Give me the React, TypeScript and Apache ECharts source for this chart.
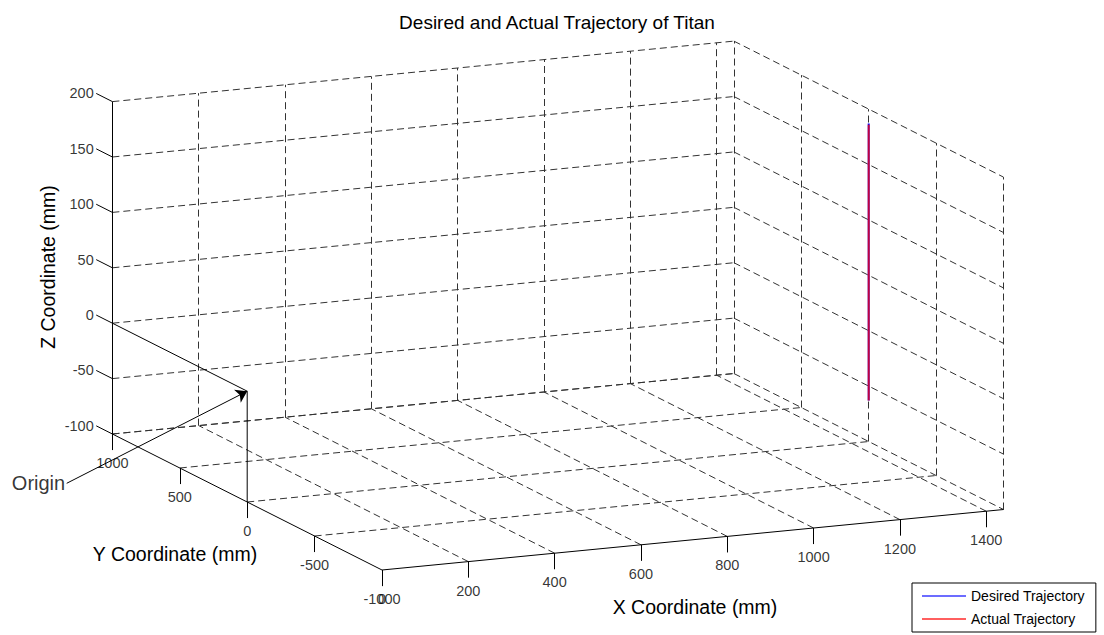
import React, { useEffect, useRef } from "react";
import * as echarts from "echarts";

// ---- data ----
const X_TICKS = [0, 200, 400, 600, 800, 1000, 1200, 1400];
const Y_TICKS = [-1000, -500, 0, 500, 1000];
const Z_TICKS = [-100, -50, 0, 50, 100, 150, 200];
const X_LIMITS = [0, 1440];
const Y_LIMITS = [-1000, 1000];
const Z_LIMITS = [-100, 200];

const DESIRED_X = [1440, 1440];
const DESIRED_Y = [0, 0];
const DESIRED_Z = [-63, 187];

const ACTUAL_X = [1440, 1440];
const ACTUAL_Y = [0, 0];
const ACTUAL_Z = [-63, 186];

const ORIGIN_GUIDE_X = [0, 0, 0];
const ORIGIN_GUIDE_Y = [1000, 0, 0];
const ORIGIN_GUIDE_Z = [0, 0, -100];

const TITLE = "Desired and Actual Trajectory of Titan";
const X_NAME = "X Coordinate (mm)";
const Y_NAME = "Y Coordinate (mm)";
const Z_NAME = "Z Coordinate (mm)";

// ---- view (oblique projection of the 3-D box) ----
const VIEW = { xu: 0.4316, xv: 0.042, yu: -0.1348, yv: 0.068, zv: 1.108 };
const ORIGIN_PX = [247.2, 391.2];
const W = 1104;
const H = 635;
const TICK_Y = 120; // z-axis tick length, in y units
const TICK_Z = 14.5; // x/y-axis tick length, in z units
const FONT = "'Liberation Sans', Arial, Helvetica, sans-serif";

function proj(x: number, y: number, z: number): number[] {
  return [x * VIEW.xu + y * VIEW.yu, x * VIEW.xv + y * VIEW.yv + z * VIEW.zv];
}
function seg(a: number[], b: number[]) {
  return { coords: [proj(a[0], a[1], a[2]), proj(b[0], b[1], b[2])] };
}

function buildOption() {
  const [x0, x1] = X_LIMITS;
  const [y0, y1] = Y_LIMITS;
  const [z0, z1] = Z_LIMITS;

  const dashed: any[] = [];
  // back wall (y = y1)
  Z_TICKS.forEach((z) => dashed.push(seg([x0, y1, z], [x1, y1, z])));
  X_TICKS.filter((x) => x !== x0).forEach((x) => dashed.push(seg([x, y1, z0], [x, y1, z1])));
  // right wall (x = x1)
  Z_TICKS.forEach((z) => dashed.push(seg([x1, y1, z], [x1, y0, z])));
  Y_TICKS.forEach((y) => dashed.push(seg([x1, y, z0], [x1, y, z1])));
  // floor (z = z0)
  X_TICKS.filter((x) => x !== x0).forEach((x) => dashed.push(seg([x, y0, z0], [x, y1, z0])));
  Y_TICKS.filter((y) => y !== y0).forEach((y) => dashed.push(seg([x0, y, z0], [x1, y, z0])));

  const solid: any[] = [
    seg([x0, y1, z0], [x0, y1, z1]),
    seg([x0, y1, z0], [x0, y0, z0]),
    seg([x0, y0, z0], [x1, y0, z0]),
  ];
  Z_TICKS.forEach((z) => solid.push(seg([x0, y1, z], [x0, y1 + TICK_Y, z])));
  Y_TICKS.forEach((y) => solid.push(seg([x0, y, z0], [x0, y, z0 - TICK_Z])));
  X_TICKS.forEach((x) => solid.push(seg([x, y0, z0], [x, y0, z0 - TICK_Z])));

  const zLabels = Z_TICKS.map((z) => ({ value: proj(x0, y1 + TICK_Y, z), name: String(z) }));
  const yLabels = Y_TICKS.map((y) => ({ value: proj(x0, y, z0 - TICK_Z), name: String(y) }));
  const xLabels = X_TICKS.map((x) => ({ value: proj(x, y0, z0 - TICK_Z), name: String(x) }));

  const toPts = (xs: number[], ys: number[], zs: number[]) => xs.map((x, i) => proj(x, ys[i], zs[i]));

  const originTip = proj(0, 0, 0);
  const originTail = [66.7 - ORIGIN_PX[0], ORIGIN_PX[1] - 483.3];

  const labelSeries = (data: any[], position: string, distance: number, fontSize = 14.5) => ({
    type: "scatter",
    silent: true,
    symbol: "circle",
    symbolSize: 1,
    data,
    itemStyle: { color: "rgba(0,0,0,0)" },
    label: {
      show: true,
      position,
      distance,
      formatter: "{b}",
      color: "#000",
      fontSize,
      fontFamily: FONT,
    },
    labelLayout: { hideOverlap: false },
    z: 5,
  });

  return {
    animation: false,
    backgroundColor: "#fff",
    grid: { left: 0, right: 0, top: 0, bottom: 0 },
    xAxis: { type: "value", min: -ORIGIN_PX[0], max: W - ORIGIN_PX[0], show: false },
    yAxis: { type: "value", min: -(H - ORIGIN_PX[1]), max: ORIGIN_PX[1], show: false },
    legend: {
      data: ["Desired Trajectory", "Actual Trajectory"],
      orient: "vertical",
      left: 912,
      top: 583,
      icon: "rect",
      itemWidth: 44,
      itemHeight: 1.5,
      itemGap: 9,
      padding: [6, 11, 6, 10],
      borderColor: "#000",
      borderWidth: 1,
      backgroundColor: "#fff",
      textStyle: { fontSize: 14, color: "#000", fontFamily: FONT, lineHeight: 14 },
    },
    graphic: [
      {
        type: "text",
        x: 557,
        y: 22,
        style: { text: TITLE, fontSize: 19, fontFamily: FONT, fill: "#000", align: "center", verticalAlign: "middle" },
      },
      {
        type: "text",
        x: 695,
        y: 607,
        style: { text: X_NAME, fontSize: 19.5, fontFamily: FONT, fill: "#000", align: "center", verticalAlign: "middle" },
      },
      {
        type: "text",
        x: 175,
        y: 554,
        style: { text: Y_NAME, fontSize: 19.5, fontFamily: FONT, fill: "#000", align: "center", verticalAlign: "middle" },
      },
      {
        type: "text",
        x: 48,
        y: 267,
        rotation: Math.PI / 2,
        style: { text: Z_NAME, fontSize: 19.5, fontFamily: FONT, fill: "#000", align: "center", verticalAlign: "middle" },
      },
    ],
    series: [
      {
        type: "lines",
        coordinateSystem: "cartesian2d",
        silent: true,
        data: dashed,
        symbol: "none",
        lineStyle: { color: "#333", width: 1, type: [7, 4], opacity: 1, curveness: 0 },
        z: 1,
      },
      {
        type: "lines",
        coordinateSystem: "cartesian2d",
        silent: true,
        data: solid,
        symbol: "none",
        lineStyle: { color: "#000", width: 1, type: "solid", opacity: 1, curveness: 0 },
        z: 2,
      },
      {
        name: "Origin guide",
        type: "line",
        silent: true,
        data: toPts(ORIGIN_GUIDE_X, ORIGIN_GUIDE_Y, ORIGIN_GUIDE_Z),
        showSymbol: false,
        symbol: "none",
        lineStyle: { color: "#000", width: 1 },
        z: 3,
      },
      {
        type: "lines",
        coordinateSystem: "cartesian2d",
        silent: true,
        data: [{ coords: [originTail, originTip] }],
        symbol: ["none", "arrow"],
        symbolSize: 11,
        lineStyle: { color: "#000", width: 1, opacity: 1, curveness: 0 },
        z: 3,
      },
      labelSeries([{ value: originTail, name: "Origin" }], "left", 1, 20),
      labelSeries(zLabels, "left", 2),
      labelSeries(yLabels, "bottom", 5),
      labelSeries(xLabels, "bottom", 5),
      {
        name: "Desired Trajectory",
        type: "line",
        data: toPts(DESIRED_X, DESIRED_Y, DESIRED_Z),
        showSymbol: false,
        symbol: "none",
        lineStyle: { color: "#0000ff", width: 2 },
        itemStyle: { color: "#3b3bff" },
        z: 6,
      },
      {
        name: "Actual Trajectory",
        type: "line",
        data: toPts(ACTUAL_X, ACTUAL_Y, ACTUAL_Z),
        showSymbol: false,
        symbol: "none",
        lineStyle: { color: "#ff0000", width: 2, opacity: 0.75 },
        itemStyle: { color: "#ff2a2a" },
        z: 7,
      },
    ],
  };
}

export default function App() {
  const ref = useRef<HTMLDivElement>(null);
  useEffect(() => {
    if (!ref.current) return;
    const chart = echarts.init(ref.current, null, { renderer: "svg" });
    chart.setOption(buildOption() as any);
    return () => chart.dispose();
  }, []);
  return (
    <div
      ref={ref}
      style={{ position: "fixed", left: 0, top: 0, width: W, height: H, background: "#fff" }}
    />
  );
}
